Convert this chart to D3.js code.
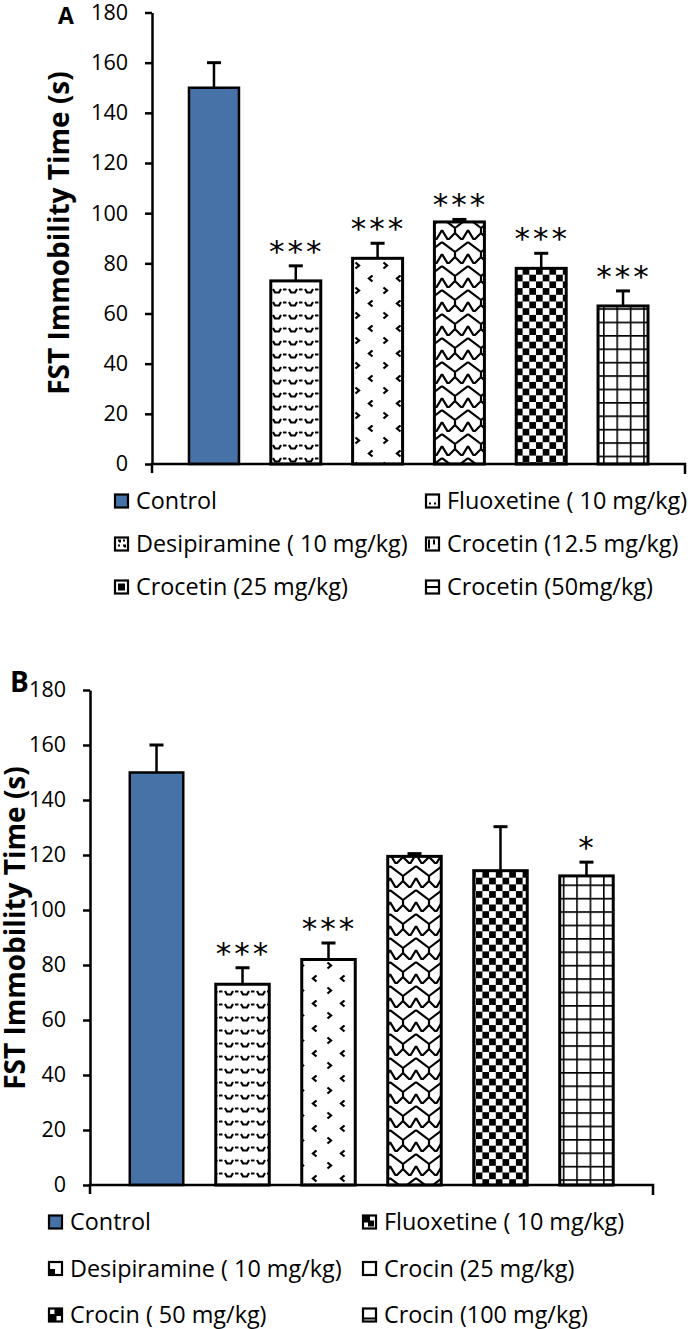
<!DOCTYPE html>
<html><head><meta charset="utf-8">
<script src="https://cdn.jsdelivr.net/npm/d3@7"></script>
<style>
html,body{margin:0;padding:0;background:#fff;}
svg{display:block;}
text{font-family:"Open Sans",Lato,sans-serif;fill:#000;}
</style></head>
<body>
<svg id="chart" width="691" height="1329"></svg>
<script>
// ---------- DATA ----------
const yTicks = [0, 20, 40, 60, 80, 100, 120, 140, 160, 180];
const yLabel = "FST Immobility Time (s)";

const categoriesA = ["Control", "Fluoxetine ( 10 mg/kg)", "Desipiramine ( 10 mg/kg)", "Crocetin (12.5 mg/kg)", "Crocetin (25 mg/kg)", "Crocetin (50mg/kg)"];
const meansA = [150, 73, 82, 96.5, 78, 63];
const errorsA = [10, 6, 6, 1, 6, 6];
const sigA = ["", "***", "***", "***", "***", "***"];

const categoriesB = ["Control", "Fluoxetine ( 10 mg/kg)", "Desipiramine ( 10 mg/kg)", "Crocin (25 mg/kg)", "Crocin ( 50 mg/kg)", "Crocin (100 mg/kg)"];
const meansB = [150, 73, 82, 119.5, 114.3, 112.4];
const errorsB = [10, 6, 6, 1, 16, 5];
const sigB = ["", "***", "***", "", "", "*"];

const fills = ["solid", "wave", "dots", "shingle", "checker", "grid"];

// ---------- SETUP ----------
const svg = d3.select("#chart");
const defs = svg.append("defs");
const BLUE = "#4672a7";

function pat(id, w, h) {
  const p = defs.append("pattern").attr("id", id).attr("patternUnits", "userSpaceOnUse")
    .attr("width", w).attr("height", h);
  p.append("rect").attr("width", w).attr("height", h).attr("fill", "#fff");
  return p;
}
// wave
{
  const p = pat("wave", 16, 13);
  p.append("path").attr("d", "M1,3 L3,6.5 L7,6.5 L9,3 M11,3.5 L14.5,3.5")
    .attr("fill", "none").attr("stroke", "#000").attr("stroke-width", 2.2);
}
// dots (< and >)
{
  const p = pat("dots", 28, 25);
  p.append("path").attr("d", "M8.5,0.5 L5,3.5 L8.5,6.5 M19.5,12.5 L23,15.5 L19.5,18.5")
    .attr("fill", "none").attr("stroke", "#000").attr("stroke-width", 2.3);
}
// shingle
{
  const p = pat("shingle", 26, 24);
  p.append("path").attr("d", "M0,2 L13,12 L13,17 M13,12 L26,2 M0,14 L6,24 M26,14 L20,24 M13,17 L6,24 M13,17 L20,24")
    .attr("fill", "none").attr("stroke", "#000").attr("stroke-width", 2.2);
}
// checker
{
  const p = pat("checker", 13.4, 13.4);
  p.append("rect").attr("x", 0).attr("y", 0).attr("width", 6.7).attr("height", 6.7).attr("fill", "#000");
  p.append("rect").attr("x", 6.7).attr("y", 6.7).attr("width", 6.7).attr("height", 6.7).attr("fill", "#000");
}
// grid
{
  const p = pat("grid", 13.4, 13.4);
  p.append("path").attr("d", "M0,0 H13.4 M0,0 V13.4")
    .attr("fill", "none").attr("stroke", "#000").attr("stroke-width", 3.2);
}

function fillOf(k) { return k === "solid" ? BLUE : "url(#" + k + ")"; }

// legend swatch marks (small icons as in the reference)
const swatchA = [null, "M4,10 h2 M9,10 h2", "M4,4 h2 v2 M9,9 h2 v2 M9,4 h2 M4,9 h2", "M4,3 v9 M9,3 v5", "M5,5 h5 v5 h-5 z", "M2,7.5 h11"];
const swatchB = [null, "M2,2 h5 v5 h-5 z M7,7 h4 v4 h-4 z", "M3,9 h3 v3 h-3 z", "", "M2,7.5 h5.5 v5.5 h-5.5 z M7.5,2 h5.5 v5.5 h-5.5z", "M2,11 h11"];

function drawChart(cfg) {
  const g = svg.append("g");
  const x = d3.scaleBand().domain(cfg.categories).range([cfg.x0, cfg.x1])
    .paddingInner(cfg.pi).paddingOuter(cfg.po);
  const y = d3.scaleLinear().domain([0, 180]).range([cfg.yb, cfg.yt]);

  // bars
  g.selectAll("rect.bar").data(cfg.categories).join("rect")
    .attr("class", "bar")
    .attr("x", d => x(d))
    .attr("width", x.bandwidth())
    .attr("y", (d, i) => y(cfg.means[i]))
    .attr("height", (d, i) => y(0) - y(cfg.means[i]))
    .attr("fill", (d, i) => fillOf(fills[i]))
    .attr("stroke", "#000")
    .attr("stroke-width", (d, i) => i === 0 ? 2.5 : 3);

  // error bars (upper only)
  const cap = 14;
  cfg.categories.forEach((c, i) => {
    const cx = x(c) + x.bandwidth() / 2;
    const top = y(cfg.means[i] + cfg.errors[i]);
    g.append("line").attr("x1", cx).attr("x2", cx)
      .attr("y1", y(cfg.means[i])).attr("y2", top)
      .attr("stroke", "#000").attr("stroke-width", 2.5);
    g.append("line").attr("x1", cx - cap / 2).attr("x2", cx + cap / 2)
      .attr("y1", top).attr("y2", top)
      .attr("stroke", "#000").attr("stroke-width", 3);
    if (cfg.sig[i]) {
      g.append("text").attr("x", cx + 1).attr("y", top - 4)
        .attr("text-anchor", "middle")
        .style("font-family", "'DejaVu Sans', sans-serif")
        .style("font-size", "31px")
        .style("letter-spacing", "3px")
        .text(cfg.sig[i]);
    }
  });

  // y axis
  const ya = g.append("g").attr("transform", `translate(${cfg.x0},0)`)
    .call(d3.axisLeft(y).tickValues(yTicks).tickSizeInner(7).tickSizeOuter(0).tickPadding(17));
  ya.select(".domain").attr("stroke", "#000").attr("stroke-width", 2.5);
  ya.selectAll(".tick line").attr("stroke", "#000").attr("stroke-width", 2.5);
  ya.selectAll(".tick text").style("font-family", "'Open Sans', sans-serif").style("font-size", "21.5px").attr("fill", "#000");

  // x axis line with end ticks
  g.append("path")
    .attr("d", `M${cfg.x0},${cfg.yb + 9} V${cfg.yb} H${cfg.x1} V${cfg.yb + 10}`)
    .attr("fill", "none").attr("stroke", "#000").attr("stroke-width", 2.5);

  // y label
  g.append("text")
    .attr("transform", `translate(${cfg.labX},${cfg.labY}) rotate(-90)`)
    .attr("text-anchor", "middle")
    .style("font-weight", "bold").style("font-size", "28px")
    .text(yLabel);

  // panel letter
  g.append("text").attr("x", cfg.letX).attr("y", cfg.letY)
    .style("font-weight", "bold").style("font-size", cfg.letSize + "px")
    .text(cfg.letter);

  // legend
  cfg.categories.forEach((c, i) => {
    const col = i % 2, row = Math.floor(i / 2);
    const sx = cfg.legCols[col];
    const cy = cfg.legY0 + row * cfg.legDy;
    const lg = g.append("g").attr("transform", `translate(${sx},${cy - 7.5})`);
    lg.append("rect").attr("x", 1).attr("y", 1).attr("width", 13).attr("height", 13)
      .attr("fill", i === 0 ? BLUE : "#fff").attr("stroke", "#000").attr("stroke-width", 2.2);
    const m = cfg.swatch[i];
    if (m) {
      lg.append("path").attr("d", m).attr("fill", "#000").attr("stroke", "#000").attr("stroke-width", 2);
    }
    g.append("text").attr("x", sx + cfg.legTextDx).attr("y", cy + 8)
      .style("font-size", "23.4px").text(c);
  });
}

drawChart({
  categories: categoriesA, means: meansA, errors: errorsA, sig: sigA, swatch: swatchA,
  x0: 152, x1: 685, yb: 464, yt: 12.5, pi: 0.389, po: 0.452,
  labX: 69, labY: 233, letter: "A", letX: 58, letY: 24, letSize: 23,
  legCols: [114, 425], legY0: 501, legDy: 43, legTextDx: 22
});
drawChart({
  categories: categoriesB, means: meansB, errors: errorsB, sig: sigB, swatch: swatchB,
  x0: 90, x1: 653, yb: 1185, yt: 690, pi: 0.378, po: 0.4625,
  labX: 25, labY: 928, letter: "B", letX: 10, letY: 692, letSize: 28,
  legCols: [48, 362], legY0: 1222, legDy: 46.5, legTextDx: 22
});
</script>
</body></html>
